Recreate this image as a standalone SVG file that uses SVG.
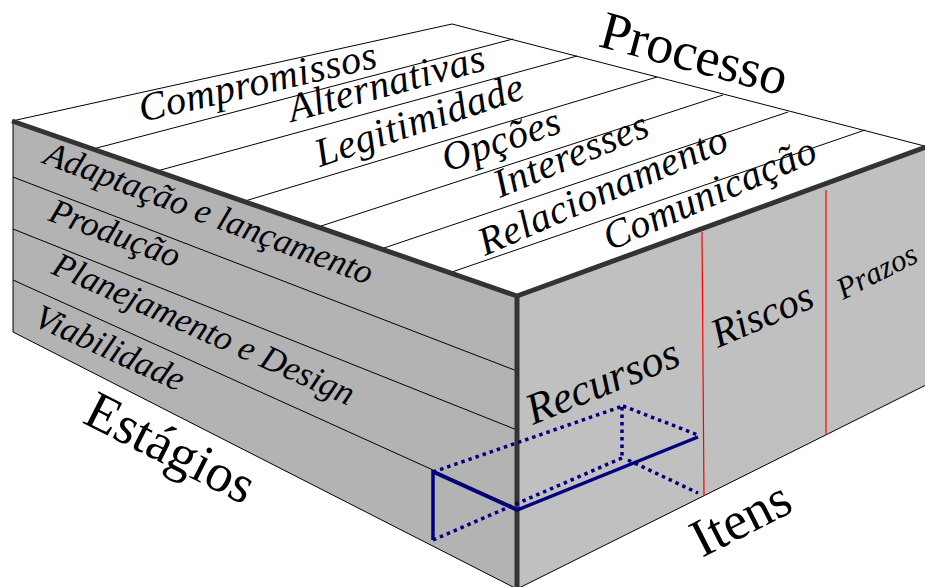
<svg xmlns="http://www.w3.org/2000/svg" width="925" height="587" viewBox="0 0 925 587">
<style>
.thin{stroke:#000;stroke-width:1;fill:none}
.thick{stroke:#333;stroke-width:5;fill:none;stroke-linejoin:round}
.red{stroke:#ff0000;stroke-width:1.2;fill:none}
.box{stroke:#000080;stroke-width:3.5;fill:none}
.dot{stroke:#000080;stroke-width:3.5;fill:none;stroke-dasharray:3.5 4}
</style>
<rect width="925" height="587" fill="#fff"/>
<g id="faces">
<polygon points="12,121 452,24 940,150 517,296" fill="#fff" stroke="#000" stroke-width="1"/>
<polygon points="13,121 517,296 517,589 13,332" fill="#b3b3b3" stroke="#000" stroke-width="1"/>
<polygon points="517,296 940,142 940,378 517,589" fill="#c0c0c0" stroke="#000" stroke-width="1"/>
</g>
<g id="connectors">
<line class="thin" x1="93" y1="149" x2="513" y2="39"/>
<line class="thin" x1="157" y1="171" x2="577" y2="56"/>
<line class="thin" x1="245" y1="201" x2="657" y2="77"/>
<line class="thin" x1="318" y1="227" x2="723" y2="95"/>
<line class="thin" x1="381" y1="249" x2="788" y2="112"/>
<line class="thin" x1="449" y1="273" x2="865" y2="130"/>
<line class="thin" x1="13" y1="177" x2="517" y2="371"/>
<line class="thin" x1="13" y1="229" x2="517" y2="430"/>
<line class="thin" x1="13" y1="280" x2="517" y2="508"/>
<line class="red" x1="702" y1="232" x2="704" y2="496"/>
<line class="red" x1="826" y1="190" x2="826" y2="435"/>
<polyline class="thick" points="12,121 517,296 940,142"/>
<line class="thick" x1="517" y1="296" x2="517" y2="590"/>
</g>
<g id="box">
<polyline class="box" points="433,540 433,472 517,510 698,437"/>
<line class="dot" x1="433" y1="472" x2="623" y2="406"/>
<line class="dot" x1="623" y1="406" x2="698" y2="435"/>
<line class="dot" x1="622" y1="407" x2="622" y2="458"/>
<line class="dot" x1="433" y1="540" x2="622" y2="458"/>
<line class="dot" x1="628" y1="460" x2="698" y2="493"/>
</g>
<g font-family="Liberation Serif, DejaVu Serif, serif" fill="#000">
<g id="top-labels" font-style="italic" font-size="40" letter-spacing="0.6">
<text transform="translate(142,122) rotate(-13)">Compromissos</text>
<text transform="translate(292,122) rotate(-15)">Alternativas</text>
<text transform="translate(320,167) rotate(-18.5)">Legitimidade</text>
<text transform="translate(447,172) rotate(-19)">Opções</text>
<text transform="translate(500,198) rotate(-22.5)">Interesses</text>
<text transform="translate(485,256) rotate(-23.5)">Relacionamento</text>
<text transform="translate(610,251) rotate(-23.5)">Comunicação</text>
</g>
<g id="left-labels" font-style="italic" font-size="35">
<text transform="translate(42,163) rotate(20.5)">Adaptação e lançamento</text>
<text transform="translate(47,220) rotate(20.5)">Produção</text>
<text transform="translate(50,273) rotate(24)">Planejamento e Design</text>
<text transform="translate(32,325) rotate(24.5)">Viabilidade</text>
</g>
<g id="right-labels" font-style="italic">
<text font-size="44" transform="translate(533,425) rotate(-22)">Recursos</text>
<text font-size="41" transform="translate(718,348) rotate(-23)">Riscos</text>
<text font-size="31" transform="translate(843,300) rotate(-27)">Prazos</text>
</g>
<g id="axis-labels" font-size="54">
<text transform="translate(597,46) rotate(15)">Processo</text>
<text transform="translate(81,422) rotate(27)">Estágios</text>
<text transform="translate(702,558) rotate(-27)">Itens</text>
</g>
</g>
</svg>
